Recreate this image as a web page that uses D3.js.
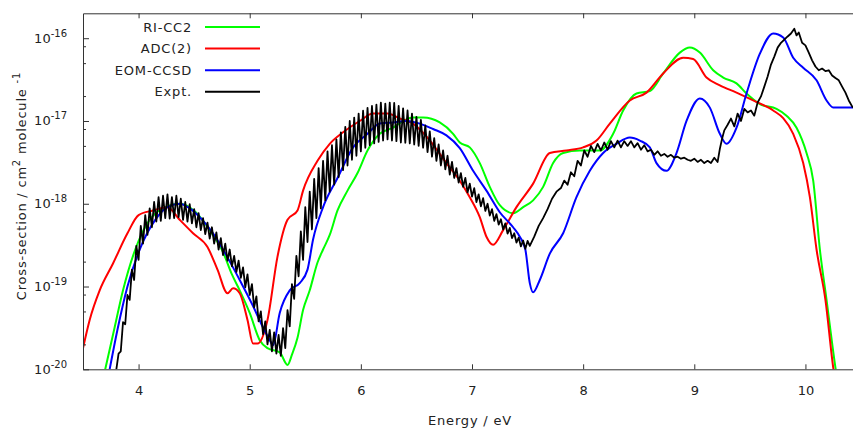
<!DOCTYPE html>
<html><head><meta charset="utf-8">
<script src="https://cdn.jsdelivr.net/npm/d3@7"></script>
<style>
body{margin:0;background:#fff;}
svg{display:block;font-family:"DejaVu Sans",sans-serif;}
</style></head><body>
<svg id="chart" width="853" height="431"></svg>
<script>
// ---- data ----
const xTickValues=[4,5,6,7,8,9,10];
const yMajorTicks=[1e-20,1e-19,1e-18,1e-17,1e-16];
const yMinorTicks=[2e-20,5e-20,8e-20,2e-19,5e-19,8e-19,2e-18,5e-18,8e-18,2e-17,5e-17,8e-17];
const seriesNames=["RI-CC2","ADC(2)","EOM-CCSD","Expt."];
const seriesColors=["#00ff00","#ff0000","#0000ff","#000000"];

const riE=[3.70,3.78,3.86,3.97,4.10,4.24,4.37,4.51,4.64,4.76,4.84,4.91,5.00,5.09,5.16,5.27,5.34,5.38,5.43,5.48,5.54,5.61,5.66,5.72,5.79,5.88,5.97,6.06,6.17,6.29,6.38,6.47,6.56,6.71,6.83,6.89,6.98,7.07,7.16,7.25,7.37,7.46,7.55,7.64,7.73,7.82,7.97,8.15,8.27,8.36,8.48,8.60,8.72,8.87,8.96,9.05,9.17,9.26,9.38,9.47,9.59,9.74,9.83,9.92,10.01,10.07,10.13,10.19,10.27,10.29];
const riS=[1.0e-20,3.0e-20,9.0e-20,2.8e-19,6.4e-19,9.1e-19,1.0e-18,8.0e-19,4.8e-19,2.6e-19,1.4e-19,9.0e-20,4.8e-20,2.25e-20,1.8e-20,1.6e-20,1.13e-20,1.5e-20,2.4e-20,5.2e-20,9.0e-20,1.95e-19,2.8e-19,4.2e-19,8.3e-19,1.44e-18,2.35e-18,4.4e-18,7.0e-18,8.3e-18,1.0e-17,1.1e-17,1.1e-17,9.6e-18,7.0e-18,5.5e-18,4.8e-18,3.1e-18,1.6e-18,9.6e-19,7.7e-19,9.1e-19,1.1e-18,1.6e-18,3.1e-18,4.1e-18,4.4e-18,4.4e-18,7.0e-18,1.34e-17,2.15e-17,2.3e-17,3.75e-17,6.7e-17,7.7e-17,6.7e-17,4.1e-17,3.35e-17,2.85e-17,2.15e-17,1.6e-17,1.4e-17,1.16e-17,8.3e-18,4.1e-18,1.9e-18,2.8e-19,6.9e-20,1.05e-20,7e-21];

const adcE=[3.50,3.56,3.65,3.77,3.90,4.00,4.13,4.26,4.37,4.49,4.62,4.71,4.80,4.85,4.91,4.98,5.03,5.07,5.16,5.25,5.34,5.43,5.48,5.61,5.72,5.84,5.99,6.11,6.24,6.35,6.47,6.59,6.77,6.89,6.98,7.07,7.13,7.19,7.28,7.40,7.55,7.70,7.85,8.00,8.12,8.24,8.42,8.57,8.72,8.90,8.99,9.11,9.23,9.38,9.53,9.71,9.80,9.89,9.98,10.04,10.10,10.18,10.25,10.27];
const adcS=[1.8e-20,3.95e-20,9.0e-20,1.9e-19,4.4e-19,7.3e-19,8.3e-19,9.1e-19,6.4e-19,4.4e-19,3.0e-19,1.6e-19,8.3e-20,9.5e-20,8.3e-20,3.95e-20,2.05e-20,2.05e-20,3.95e-20,2.3e-19,6.4e-19,8.3e-19,1.44e-18,3.3e-18,5.3e-18,7.3e-18,1.0e-17,1.23e-17,1.23e-17,1.07e-17,9.3e-18,6.5e-18,3.1e-18,1.9e-18,1.2e-18,6.9e-19,4.0e-19,3.2e-19,4.8e-19,9.1e-19,1.75e-18,4.1e-18,4.4e-18,4.8e-18,5.8e-18,9.3e-18,1.77e-17,2.2e-17,3.75e-17,5.8e-17,5.6e-17,3.35e-17,2.7e-17,2.2e-17,1.77e-17,1.34e-17,1.08e-17,7.0e-18,3.1e-18,1.2e-18,2.8e-19,6.9e-20,1.05e-20,7e-21];

const eomE=[3.74,3.81,3.90,4.01,4.15,4.26,4.37,4.46,4.55,4.67,4.80,4.91,5.03,5.12,5.18,5.21,5.27,5.36,5.45,5.52,5.57,5.66,5.79,5.93,6.06,6.17,6.29,6.41,6.53,6.65,6.77,6.89,7.01,7.13,7.25,7.37,7.43,7.48,7.52,7.55,7.61,7.70,7.82,7.94,8.06,8.18,8.30,8.42,8.51,8.60,8.66,8.75,8.84,8.93,9.05,9.14,9.23,9.29,9.38,9.47,9.59,9.71,9.80,9.89,9.98,10.10,10.19,10.25,10.50];
const eomS=[1.0e-20,3.0e-20,1.0e-19,2.8e-19,6.4e-19,9.1e-19,1.0e-18,8.8e-19,6.9e-19,4.4e-19,2.25e-19,1.2e-19,5.8e-20,3.2e-20,2.25e-20,1.96e-20,4.8e-20,9.0e-20,1.1e-19,1.6e-19,3.7e-19,9.1e-19,2.05e-18,4.8e-18,7.0e-18,9.3e-18,9.6e-18,1.0e-17,9.3e-18,8.0e-18,6.7e-18,4.7e-18,2.5e-18,1.44e-18,7.9e-19,5.2e-19,4.0e-19,2.8e-19,1.1e-19,8.5e-20,1.2e-19,2.5e-19,4.4e-19,1.2e-18,2.5e-18,4.1e-18,5.3e-18,6.3e-18,5.8e-18,4.8e-18,3.1e-18,2.5e-18,4.1e-18,1.0e-17,1.87e-17,1.45e-17,7.0e-18,5.3e-18,8.3e-18,2.15e-17,6.5e-17,1.14e-16,1.02e-16,5.8e-17,4.4e-17,3.1e-17,1.77e-17,1.46e-17,1.46e-17];

const exptE=[3.80,3.82,3.84,3.86,3.88,3.90,3.92,3.94,3.96,3.98,4.00,4.02,4.04,4.06,4.08,4.10,4.12,4.14,4.16,4.18,4.20,4.22,4.24,4.26,4.28,4.30,4.32,4.34,4.36,4.38,4.40,4.42,4.44,4.46,4.48,4.50,4.52,4.54,4.56,4.58,4.60,4.62,4.64,4.66,4.68,4.70,4.72,4.74,4.76,4.78,4.80,4.82,4.84,4.86,4.88,4.90,4.92,4.94,4.96,4.98,5.00,5.02,5.04,5.06,5.08,5.10,5.12,5.14,5.16,5.18,5.20,5.22,5.24,5.26,5.28,5.30,5.32,5.34,5.36,5.38,5.40,5.42,5.44,5.46,5.48,5.50,5.52,5.54,5.56,5.58,5.60,5.62,5.64,5.66,5.68,5.70,5.72,5.74,5.76,5.78,5.80,5.82,5.84,5.86,5.88,5.90,5.92,5.94,5.96,5.98,6.00,6.02,6.04,6.06,6.08,6.10,6.12,6.14,6.16,6.18,6.20,6.22,6.24,6.26,6.28,6.30,6.32,6.34,6.36,6.38,6.40,6.42,6.44,6.46,6.48,6.50,6.52,6.54,6.56,6.58,6.60,6.62,6.64,6.66,6.68,6.70,6.72,6.74,6.76,6.78,6.80,6.82,6.84,6.86,6.88,6.90,6.92,6.94,6.96,6.98,7.00,7.02,7.04,7.06,7.08,7.10,7.12,7.14,7.16,7.18,7.20,7.22,7.24,7.26,7.28,7.30,7.32,7.34,7.36,7.38,7.40,7.42,7.44,7.46,7.48,7.50,7.52,7.56,7.60,7.64,7.68,7.72,7.76,7.80,7.83,7.86,7.89,7.92,7.95,7.98,8.01,8.04,8.07,8.10,8.13,8.16,8.19,8.22,8.25,8.28,8.31,8.34,8.37,8.40,8.43,8.46,8.49,8.52,8.55,8.58,8.61,8.64,8.67,8.70,8.73,8.76,8.79,8.82,8.85,8.88,8.91,8.94,8.97,9.00,9.03,9.06,9.09,9.12,9.15,9.18,9.21,9.23,9.25,9.27,9.30,9.33,9.36,9.39,9.42,9.45,9.48,9.51,9.54,9.57,9.60,9.63,9.66,9.69,9.72,9.75,9.78,9.81,9.84,9.87,9.90,9.92,9.94,9.97,10.00,10.03,10.06,10.09,10.12,10.15,10.18,10.21,10.24,10.27,10.30,10.33,10.36,10.39,10.42,10.45];
const exptS=[1.0e-20,1.55e-20,1.65e-20,3.7e-20,3.5e-20,7.9e-20,6.9e-20,1.6e-19,1.2e-19,3.1e-19,2.1e-19,5.4e-19,3.3e-19,7.3e-19,4.2e-19,8.8e-19,5.2e-19,1.05e-18,6.1e-19,1.2e-18,6.2e-19,1.25e-18,6.7e-19,1.3e-18,6.6e-19,1.2e-18,6.7e-19,1.25e-18,6.9e-19,1.15e-18,6.4e-19,1.05e-18,6.1e-19,9.9e-19,5.8e-19,8.6e-19,5.2e-19,7.7e-19,4.8e-19,6.7e-19,4.3e-19,5.9e-19,3.8e-19,5.2e-19,3.3e-19,4.5e-19,2.8e-19,3.85e-19,2.4e-19,3.3e-19,2.05e-19,2.8e-19,1.75e-19,2.35e-19,1.5e-19,2.05e-19,1.27e-19,1.7e-19,9.8e-20,1.4e-19,7.9e-20,1.07e-19,5.6e-20,7.6e-20,3.8e-20,5.0e-20,2.65e-20,3.8e-20,2.0e-20,3.0e-20,1.65e-20,2.8e-20,1.55e-20,2.6e-20,1.45e-20,3.15e-20,1.8e-20,5.2e-20,3.3e-20,1.07e-19,7.1e-20,2.35e-19,1.33e-19,4.65e-19,2.1e-19,9.1e-19,3.45e-19,1.4e-18,4.9e-19,2.0e-18,6.7e-19,2.7e-18,8.8e-19,3.3e-18,1.1e-18,4.3e-18,1.4e-18,5.1e-18,1.7e-18,6.0e-18,2.1e-18,7.3e-18,2.55e-18,8.5e-18,2.9e-18,1.0e-17,3.4e-18,1.1e-17,3.8e-18,1.23e-17,4.3e-18,1.33e-17,4.75e-18,1.44e-17,5.1e-18,1.52e-17,5.35e-18,1.58e-17,5.6e-18,1.67e-17,5.8e-18,1.62e-17,6.0e-18,1.67e-17,5.8e-18,1.65e-17,5.7e-18,1.52e-17,5.5e-18,1.42e-17,5.45e-18,1.34e-17,5.35e-18,1.23e-17,5.2e-18,1.12e-17,5.0e-18,1.03e-17,4.75e-18,8.85e-18,4.2e-18,7.5e-18,3.7e-18,6.2e-18,3.3e-18,5.2e-18,2.9e-18,4.4e-18,2.6e-18,3.8e-18,2.25e-18,3.2e-18,2.05e-18,2.7e-18,1.8e-18,2.35e-18,1.6e-18,2.05e-18,1.37e-18,1.75e-18,1.22e-18,1.54e-18,1.05e-18,1.3e-18,9.3e-19,1.17e-18,8.2e-19,1.0e-18,7.2e-19,8.6e-19,6.2e-19,7.5e-19,5.6e-19,6.5e-19,4.9e-19,5.8e-19,4.35e-19,5.1e-19,3.85e-19,4.4e-19,3.4e-19,3.9e-19,3.05e-19,3.6e-19,2.85e-19,3.55e-19,3.1e-19,4.0e-19,5.4e-19,6.7e-19,8.6e-19,1.15e-18,1.4e-18,1.55e-18,1.9e-18,1.7e-18,2.4e-18,2.15e-18,3.3e-18,2.9e-18,4.4e-18,3.7e-18,5.0e-18,4.2e-18,5.3e-18,4.4e-18,5.5e-18,4.5e-18,5.7e-18,4.8e-18,5.8e-18,4.8e-18,5.7e-18,5.0e-18,5.7e-18,4.8e-18,5.4e-18,4.5e-18,5.1e-18,4.3e-18,4.5e-18,3.9e-18,4.3e-18,3.8e-18,4.0e-18,3.7e-18,3.9e-18,3.6e-18,3.7e-18,3.5e-18,3.6e-18,3.4e-18,3.3e-18,3.5e-18,3.2e-18,3.4e-18,3.1e-18,3.3e-18,3.1e-18,3.6e-18,3.2e-18,4.6e-18,6.1e-18,7.7e-18,9.0e-18,1.07e-17,8.6e-18,1.23e-17,1.0e-17,1.4e-17,1.27e-17,1.34e-17,1.16e-17,1.67e-17,1.98e-17,2.6e-17,3.45e-17,4.8e-17,6.0e-17,7.7e-17,8.8e-17,9.6e-17,1.05e-16,1.14e-16,1.3e-16,1.08e-16,1.17e-16,8.8e-17,8.2e-17,6.7e-17,5.4e-17,4.55e-17,4.1e-17,4.3e-17,4.0e-17,4.1e-17,3.55e-17,3.3e-17,3.1e-17,2.6e-17,2.2e-17,1.77e-17,1.5e-17,1.4e-17];

// ---- layout ----
const svg=d3.select("#chart");
const L=83, R=861, T=13.3, B=369.3;
const x=d3.scaleLinear().domain([3.5,10.5]).range([L,R]);
const y=d3.scaleLog().domain([1e-20,2e-16]).range([B,T]);
const axisColor="#333";
const textColor="#222";
const FS="13px", LS="0.8px";

svg.append("defs").append("clipPath").attr("id","clip")
  .append("rect").attr("x",L).attr("y",T).attr("width",R-L).attr("height",B-T);

// curves
const series=[
  {E:riE,S:riS,curve:d3.curveMonotoneX,w:2},
  {E:adcE,S:adcS,curve:d3.curveMonotoneX,w:2},
  {E:eomE,S:eomS,curve:d3.curveMonotoneX,w:2},
  {E:exptE,S:exptS,curve:d3.curveLinear,w:1.8}
];
const plot=svg.append("g").attr("clip-path","url(#clip)");
series.forEach((s,i)=>{
  const pts=d3.zip(s.E,s.S);
  const line=d3.line().x(d=>x(d[0])).y(d=>y(d[1])).curve(s.curve);
  plot.append("path").datum(pts).attr("d",line)
    .attr("fill","none").attr("stroke",seriesColors[i])
    .attr("stroke-width",s.w).attr("stroke-linejoin","round");
});

// axes
function styleAxis(g){
  g.select(".domain").attr("stroke",axisColor);
  g.selectAll(".tick line").attr("stroke",axisColor);
}
const gx=svg.append("g").attr("transform",`translate(0,${B})`)
  .call(d3.axisBottom(x).tickValues(xTickValues).tickSize(-5).tickPadding(16).tickSizeOuter(0).tickFormat(d3.format("d")));
styleAxis(gx);
gx.selectAll("text").attr("fill",textColor).style("font-size",FS).style("font-family","DejaVu Sans");

const gxt=svg.append("g").attr("transform",`translate(0,${T})`)
  .call(d3.axisTop(x).tickValues(xTickValues).tickSize(-5).tickSizeOuter(0).tickFormat(""));
styleAxis(gxt);

const gy=svg.append("g").attr("transform",`translate(${L},0)`)
  .call(d3.axisLeft(y).tickValues(yMajorTicks).tickSize(-6).tickSizeOuter(0).tickFormat(""));
styleAxis(gy);
const gym=svg.append("g").attr("transform",`translate(${L},0)`)
  .call(d3.axisLeft(y).tickValues(yMinorTicks).tickSize(-3).tickSizeOuter(0).tickFormat(""));
styleAxis(gym);
gym.select(".domain").remove();

// y tick labels with superscripts
const yl=svg.append("g").attr("fill",textColor).style("font-size",FS);
yMajorTicks.forEach(v=>{
  const t=yl.append("text").attr("x",67).attr("y",y(v)+4.5).attr("text-anchor","end");
  t.append("tspan").text("10");
  t.append("tspan").attr("dy",-6).style("font-size","10px").text(String(Math.round(Math.log10(v))));
});

// axis titles
svg.append("text").attr("x",470).attr("y",425).attr("text-anchor","middle")
  .attr("fill",textColor).style("font-size",FS).style("letter-spacing",LS).text("Energy / eV");
const yt=svg.append("text").attr("transform","translate(26,186) rotate(-90)")
  .attr("text-anchor","middle").attr("fill",textColor).style("font-size",FS).style("letter-spacing",LS);
yt.append("tspan").text("Cross-section / cm");
yt.append("tspan").attr("dy",-6).style("font-size","10px").text("2");
yt.append("tspan").attr("dy",6).text(" molecule ");
yt.append("tspan").attr("dy",-6).style("font-size","10px").text("-1");

// legend
const lg=svg.append("g");
seriesNames.forEach((n,i)=>{
  const cy=27+i*21.6;
  lg.append("text").attr("x",192).attr("y",cy+4.5).attr("text-anchor","end")
    .attr("fill",textColor).style("font-size",FS).style("letter-spacing",LS).text(n);
  lg.append("line").attr("x1",205).attr("x2",260).attr("y1",cy).attr("y2",cy)
    .attr("stroke",seriesColors[i]).attr("stroke-width",2);
});
</script>
</body></html>
